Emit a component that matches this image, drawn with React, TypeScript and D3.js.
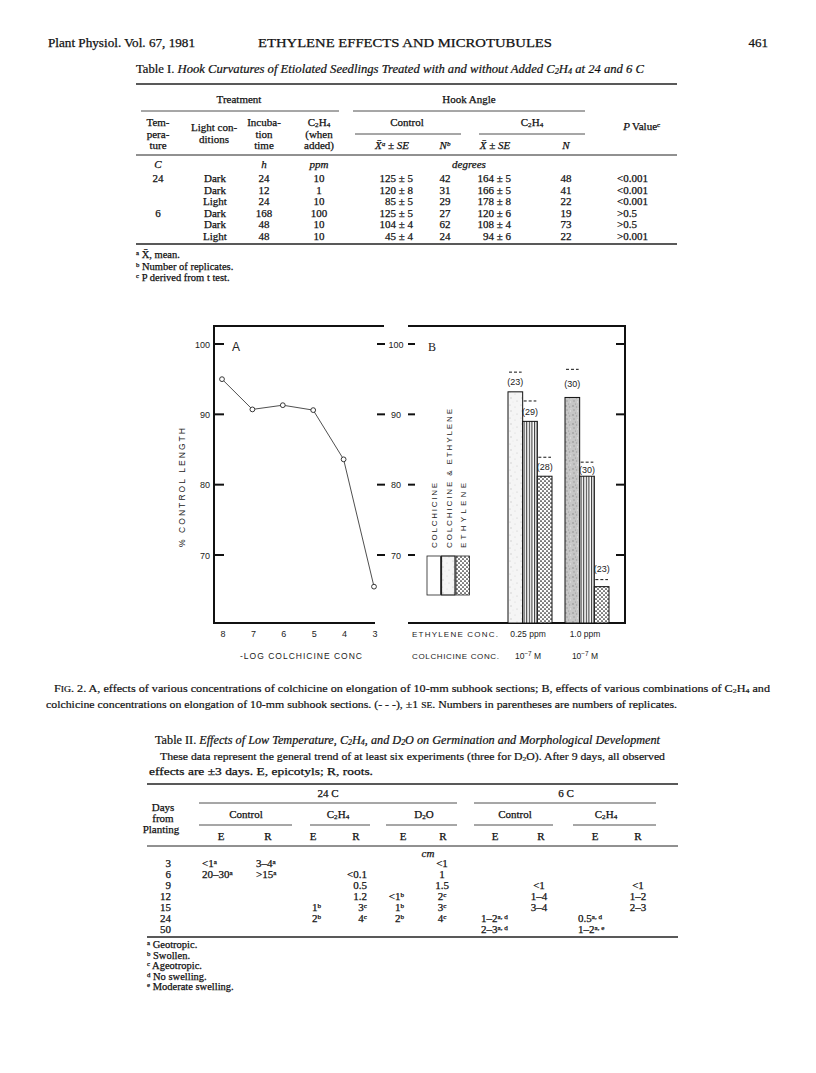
import React from 'react';
import * as d3 from 'd3';

const serif = '"Liberation Serif", "Times New Roman", serif';
const sans = '"Liberation Sans", Arial, sans-serif';

// ---- Fig. 2A : % control length vs -log colchicine conc
const logConc = [8, 7, 6, 5, 4, 3];
const pctLength = [95, 90.7, 91.3, 90.6, 83.6, 65.5];
const yTicks = [70, 80, 90, 100];

// ---- Fig. 2B : bars per ethylene conc (colchicine 10^-7 M)
const ethyleneConc = ['0.25 ppm', '1.0 ppm'];
const treatments = ['COLCHICINE', 'COLCHICINE & ETHYLENE', 'ETHYLENE'];
const barMeans = [[93.2, 89.0, 81.2], [92.4, 81.2, 65.5]];
const barSE = [[2.8, 2.9, 2.7], [4.0, 2.0, 1.0]];
const replicates = [[23, 29, 28], [30, 30, 23]];

// ---- Table I
const t1Temp = ['24', '', '', '6', '', ''];
const t1Light = ['Dark', 'Dark', 'Light', 'Dark', 'Dark', 'Light'];
const t1Time = ['24', '12', '24', '168', '48', '48'];
const t1Ppm = ['10', '1', '10', '100', '10', '10'];
const t1CtrlMean = ['125 ± 5', '120 ± 8', '85 ± 5', '125 ± 5', '104 ± 4', '45 ± 4'];
const t1CtrlN = ['42', '31', '29', '27', '62', '24'];
const t1EthMean = ['164 ± 5', '166 ± 5', '178 ± 8', '120 ± 6', '108 ± 4', '94 ± 6'];
const t1EthN = ['48', '41', '22', '19', '73', '22'];
const t1P = ['<0.001', '<0.001', '<0.001', '>0.5', '>0.5', '>0.001'];

// ---- Table II
const t2Days = ['3', '6', '9', '12', '15', '24', '50'];
const t2CtrlE = ['<1{^a}', '20–30{^a}', '', '', '', '', ''];
const t2CtrlR = ['3–4{^a}', '>15{^a}', '', '', '', '', ''];
const t2EthE = ['', '', '', '', '1{^b}', '2{^b}', ''];
const t2EthR = ['', '<0.1', '0.5', '1.2', '3{^c}', '4{^c}', ''];
const t2D2oE = ['', '', '', '<1{^b}', '1{^b}', '2{^b}', ''];
const t2D2oR = ['<1', '1', '1.5', '2{^c}', '3{^c}', '4{^c}', ''];
const t2ColdCtrlE = ['', '', '', '', '', '1–2{^a, d}', '2–3{^a, d}'];
const t2ColdCtrlR = ['', '', '<1', '1–4', '3–4', '', ''];
const t2ColdEthE = ['', '', '', '', '', '0.5{^a, d}', '1–2{^a, e}'];
const t2ColdEthR = ['', '', '<1', '1–2', '2–3', '', ''];
const t2Notes = ['{^a} Geotropic.', '{^b} Swollen.', '{^c} Ageotropic.', '{^d} No swelling.', '{^e} Moderate swelling.'];

function Rich({ s }: { s: string }) {
  const parts = s.split(/(\{[_^][^}]*\})/).filter(Boolean);
  return (
    <>
      {parts.map((p, i) => {
        const m = p.match(/^\{([_^])(.*)\}$/);
        if (!m) return <tspan key={i}>{p}</tspan>;
        return (
          <tspan key={i} fontSize="0.65em" baselineShift={m[1] === '^' ? '45%' : '-15%'}>
            {m[2]}
          </tspan>
        );
      })}
    </>
  );
}

const T = ({ x, y, s, anchor = 'middle', size = 11, italic = false, len }: any) => (
  <text x={x} y={y} textAnchor={anchor} fontSize={size} fontFamily={serif} stroke="#111" strokeWidth={0.25}
    fontStyle={italic ? 'italic' : 'normal'} textLength={len} lengthAdjust={len ? 'spacingAndGlyphs' : undefined}>
    <Rich s={s} />
  </text>
);

const Rule = ({ x1, x2, y, w = 0.8 }: any) => <line x1={x1} x2={x2} y1={y} y2={y} stroke="#222" strokeWidth={w} />;

function Header() {
  return (
    <g fill="#111">
      <T x={48} y={47} s="Plant Physiol. Vol. 67, 1981" anchor="start" size={12.5} len={147} />
      <T x={405} y={47} s="ETHYLENE EFFECTS AND MICROTUBULES" size={13} len={294} />
      <T x={768} y={47} s="461" anchor="end" size={13} />
    </g>
  );
}

function TableOne() {
  const row = d3.scaleLinear().domain([0, 5]).range([180, 237.5]);
  const cols: [string[], number, string][] = [
    [t1Temp, 158, 'middle'], [t1Light, 215, 'middle'], [t1Time, 264, 'middle'], [t1Ppm, 319, 'middle'],
    [t1CtrlMean, 413, 'end'], [t1CtrlN, 445, 'middle'], [t1EthMean, 511, 'end'], [t1EthN, 566, 'middle'],
    [t1P, 617, 'start'],
  ];
  return (
    <g fill="#111">
      <text x={136} y={73} fontSize={11.5} fontFamily={serif} stroke="#111" strokeWidth={0.2} textLength={508} lengthAdjust="spacingAndGlyphs">
        <tspan>Table I. </tspan>
        <tspan fontStyle="italic">Hook Curvatures of Etiolated Seedlings Treated with and without Added C</tspan>
        <tspan fontStyle="italic" fontSize="0.65em" baselineShift="-15%">2</tspan>
        <tspan fontStyle="italic">H</tspan>
        <tspan fontStyle="italic" fontSize="0.65em" baselineShift="-15%">4</tspan>
        <tspan fontStyle="italic"> at 24 and 6 C</tspan>
      </text>
      <Rule x1={136} x2={677} y={84} w={1.6} />
      <T x={239} y={103} s="Treatment" />
      <T x={469} y={103} s="Hook Angle" />
      <Rule x1={141} x2={339} y={111} />
      <Rule x1={353} x2={585} y={111} />
      <T x={158} y={126} s="Tem-" /><T x={158} y={137.5} s="pera-" /><T x={158} y={149} s="ture" />
      <T x={214} y={131} s="Light con-" /><T x={214} y={142.5} s="ditions" />
      <T x={264} y={126} s="Incuba-" /><T x={264} y={137.5} s="tion" /><T x={264} y={149} s="time" />
      <T x={319} y={126} s="C{_2}H{_4}" /><T x={319} y={138} s="(when" /><T x={319} y={149} s="added)" />
      <T x={407} y={126} s="Control" />
      <T x={532} y={126} s="C{_2}H{_4}" />
      <T x={630} y={130} s="P" italic anchor="end" />
      <T x={632} y={130} s="Value{^c}" anchor="start" />
      <Rule x1={355} x2={461} y={134} />
      <Rule x1={479} x2={585} y={134} />
      <T x={392} y={149} s="X̄{^a} ± SE" italic />
      <T x={445} y={149} s="N{^b}" italic />
      <T x={495} y={149} s="X̄ ± SE" italic />
      <T x={566} y={149} s="N" italic />
      <Rule x1={136} x2={677} y={155} w={1} />
      <T x={158} y={168} s="C" italic />
      <T x={264} y={168} s="h" italic />
      <T x={319} y={168} s="ppm" italic />
      <T x={469} y={168} s="degrees" italic />
      {cols.map(([vals, x, a], ci) =>
        vals.map((v, i) => <T key={ci + '-' + i} x={x} y={row(i) + 2} s={v} anchor={a} />)
      )}
      <Rule x1={136} x2={677} y={244} w={1.4} />
      <T x={136} y={258} s="{^a} X̄, mean." anchor="start" size={10.5} />
      <T x={136} y={269.5} s="{^b} Number of replicates." anchor="start" size={10.5} />
      <T x={136} y={281} s="{^c} P derived from t test." anchor="start" size={10.5} />
    </g>
  );
}

function Figure() {
  const y = d3.scaleLinear().domain([70, 100]).range([555, 344]);
  const xA = d3.scaleLinear().domain([8, 3]).range([222, 374]);
  const line = d3.line<number>().x((_, i) => xA(logConc[i])).y(d => y(d));
  const group = d3.scaleBand<string>().domain(ethyleneConc).range([508, 609]).paddingInner(0.228);
  const sub = d3.scaleBand<number>().domain([0, 1, 2]).range([0, group.bandwidth()]);
  const fills = [['url(#stipL)', 'url(#vl)', 'url(#dots)'], ['url(#stipD)', 'url(#vl)', 'url(#dots)']];
  const base = 623;
  const lab = { fontFamily: sans, fill: '#222' };
  return (
    <g>
      <defs>
        <pattern id="stipL" width="11" height="13" patternUnits="userSpaceOnUse">
          <rect width="11" height="13" fill="#f5f5f5" />
          <circle cx="2" cy="2" r="0.6" fill="#c2c2c2" /><circle cx="7" cy="4" r="0.5" fill="#d0d0d0" />
          <circle cx="3" cy="8" r="0.7" fill="#c8c8c8" /><circle cx="9" cy="11" r="0.5" fill="#bdbdbd" />
          <circle cx="5" cy="12" r="0.4" fill="#d6d6d6" />
        </pattern>
        <pattern id="stipD" width="7" height="9" patternUnits="userSpaceOnUse">
          <rect width="7" height="9" fill="#c6c6c6" />
          <circle cx="1" cy="1" r="0.8" fill="#8c8c8c" /><circle cx="4.5" cy="2" r="0.7" fill="#a2a2a2" />
          <circle cx="2" cy="5" r="0.7" fill="#969696" /><circle cx="5.5" cy="6" r="0.7" fill="#e4e4e4" />
          <circle cx="3.5" cy="8" r="0.6" fill="#9a9a9a" /><circle cx="6" cy="3.8" r="0.5" fill="#e0e0e0" />
        </pattern>
        <pattern id="vl" width="2.6" height="4" patternUnits="userSpaceOnUse">
          <rect width="2.6" height="4" fill="#fff" />
          <line x1="0.6" x2="0.6" y1="0" y2="4" stroke="#111" strokeWidth="0.9" />
        </pattern>
        <pattern id="dots" width="4" height="4" patternUnits="userSpaceOnUse">
          <rect width="4" height="4" fill="#fff" />
          <circle cx="1" cy="1" r="0.85" fill="#111" /><circle cx="3" cy="3" r="0.85" fill="#111" />
        </pattern>
      </defs>

      {/* frame */}
      <g stroke="#111" strokeWidth={2} fill="none">
        <path d={`M213,326 H384`} />
        <path d={`M214,325 V${base} H375`} />
        <path d={`M408,326 H625 V${base} H408`} />
      </g>

      {/* panel A axes */}
      {yTicks.map(t => (
        <g key={'a' + t}>
          <line x1={214} x2={224} y1={y(t)} y2={y(t)} stroke="#111" strokeWidth={2} />
          <text x={210} y={y(t) + 3.5} textAnchor="end" fontSize={9} {...lab}>{t}</text>
        </g>
      ))}
      {logConc.map(v => (
        <text key={'x' + v} x={xA(v) + 1} y={637} textAnchor="middle" fontSize={9} {...lab}>{v}</text>
      ))}
      <text x={240} y={659} fontSize={8.5} textLength={122} lengthAdjust="spacing" {...lab}>-LOG COLCHICINE CONC</text>
      <text transform="translate(185,547) rotate(-90)" fontSize={8.5} textLength={119} lengthAdjust="spacing" {...lab}>% CONTROL LENGTH</text>
      <text x={232} y={351} fontSize={12} fontFamily={sans} fill="#222">A</text>
      <path d={line(pctLength) || ''} fill="none" stroke="#222" strokeWidth={0.8} />
      {pctLength.map((v, i) => (
        <circle key={'p' + i} cx={xA(logConc[i])} cy={y(v)} r={2.4} fill="#fff" stroke="#222" strokeWidth={0.9} />
      ))}

      {/* panel B scale */}
      {yTicks.map(t => (
        <g key={'b' + t} stroke="#111" strokeWidth={2}>
          <line x1={377} x2={385} y1={y(t)} y2={y(t)} />
          <line x1={408} x2={415} y1={y(t)} y2={y(t)} />
          <line x1={616} x2={625} y1={y(t)} y2={y(t)} />
          <text x={396} y={y(t) + 3.5} textAnchor="middle" fontSize={9} stroke="none" {...lab}>{t}</text>
        </g>
      ))}
      <text x={428} y={351} fontSize={12} fontFamily={serif} fill="#222">B</text>

      {/* legend */}
      {treatments.map((t, i) => {
        const x0 = 427 + i * 14.5;
        const len = [65, 139, 65][i];
        return (
          <g key={'l' + i}>
            <text transform={`translate(${x0 + 10},548) rotate(-90)`} fontSize={8} textLength={len}
              lengthAdjust="spacing" {...lab}>{t}</text>
            <rect x={x0} y={556} width={13.5} height={39} fill={['#fff', 'url(#stipL)', 'url(#dots)'][i]}
              stroke="#222" strokeWidth={i === 1 ? 1.2 : 0.8} />
          </g>
        );
      })}

      {/* bars */}
      {ethyleneConc.map((g, gi) => (
        <g key={g} transform={`translate(${group(g)},0)`}>
          {barMeans[gi].map((v, i) => {
            const x0 = sub(i)!;
            const w = sub.bandwidth();
            const top = y(v);
            const err = y(v + barSE[gi][i]);
            const ly = top - err < 10 ? err - 8 : (top + err) / 2 + 3.5;
            return (
              <g key={i}>
                <rect x={x0} y={top} width={w} height={base - top} fill={fills[gi][i]} stroke="#111" strokeWidth={1} />
                <line x1={x0 + 1} x2={x0 + w - 1} y1={err} y2={err} stroke="#111" strokeWidth={1} strokeDasharray="3,2" />
                <text x={x0 + w / 2} y={ly} textAnchor="middle" fontSize={9} {...lab}>({replicates[gi][i]})</text>
              </g>
            );
          })}
        </g>
      ))}
      <text x={412} y={637} fontSize={8} textLength={86} lengthAdjust="spacing" {...lab}>ETHYLENE CONC.</text>
      <text x={412} y={659} fontSize={8} textLength={87} lengthAdjust="spacing" {...lab}>COLCHICINE CONC.</text>
      {ethyleneConc.map(g => (
        <g key={'c' + g}>
          <text x={group(g)! + group.bandwidth() / 2 - 2} y={637} textAnchor="middle" fontSize={8.5} {...lab}>{g}</text>
          <text x={group(g)! + group.bandwidth() / 2 - 2} y={659} textAnchor="middle" fontSize={8.5} {...lab}>
            10<tspan fontSize="0.75em" baselineShift="45%">−7</tspan> M
          </text>
        </g>
      ))}
    </g>
  );
}

function Caption() {
  return (
    <g fill="#111" stroke="#111" strokeWidth={0.2}>
      <text x={54} y={692} fontSize={11} fontFamily={serif} textLength={716} lengthAdjust="spacingAndGlyphs">
        F<tspan fontSize="0.8em">IG</tspan>. 2. A, effects of various concentrations of colchicine on elongation of 10-mm subhook sections; B, effects of various combinations of C<tspan fontSize="0.65em" baselineShift="-15%">2</tspan>H<tspan fontSize="0.65em" baselineShift="-15%">4</tspan> and
      </text>
      <text x={46} y={708} fontSize={11} fontFamily={serif} textLength={631} lengthAdjust="spacingAndGlyphs">
        colchicine concentrations on elongation of 10-mm subhook sections. (- - -), ±1 <tspan fontSize="0.8em">SE</tspan>. Numbers in parentheses are numbers of replicates.
      </text>
    </g>
  );
}

function TableTwo() {
  const dy = -16;
  const row = d3.scaleLinear().domain([0, 6]).range([883 + dy, 949 + dy]);
  const cols: [string[], number, string][] = [
    [t2Days, 171, 'end'], [t2CtrlE, 202, 'start'], [t2CtrlR, 256, 'start'],
    [t2EthE, 312, 'start'], [t2EthR, 367, 'end'], [t2D2oE, 404, 'end'], [t2D2oR, 442, 'middle'],
    [t2ColdCtrlE, 481, 'start'], [t2ColdCtrlR, 539, 'middle'], [t2ColdEthE, 578, 'start'], [t2ColdEthR, 638, 'middle'],
  ];
  const heads: [string, number, number, number][] = [
    ['Control', 246, 199, 292], ['C{_2}H{_4}', 338, 310, 370], ['D{_2}O', 424, 386, 457],
    ['Control', 515, 474, 553], ['C{_2}H{_4}', 606, 573, 656],
  ];
  const er = [221, 268, 313, 356, 403, 443, 495, 541, 595, 638];
  return (
    <g fill="#111">
      <text x={155} y={760 + dy} fontSize={11.5} fontFamily={serif} stroke="#111" strokeWidth={0.2} textLength={505} lengthAdjust="spacingAndGlyphs">
        <tspan>Table II. </tspan>
        <tspan fontStyle="italic">Effects of Low Temperature, C</tspan>
        <tspan fontStyle="italic" fontSize="0.65em" baselineShift="-15%">2</tspan>
        <tspan fontStyle="italic">H</tspan>
        <tspan fontStyle="italic" fontSize="0.65em" baselineShift="-15%">4</tspan>
        <tspan fontStyle="italic">, and D</tspan>
        <tspan fontStyle="italic" fontSize="0.65em" baselineShift="-15%">2</tspan>
        <tspan fontStyle="italic">O on Germination and Morphological Development</tspan>
      </text>
      <text x={160} y={776 + dy} fontSize={11} fontFamily={serif} stroke="#111" strokeWidth={0.2} textLength={505} lengthAdjust="spacingAndGlyphs">
        These data represent the general trend of at least six experiments (three for D<tspan fontSize="0.65em" baselineShift="-15%">2</tspan>O). After 9 days, all observed
      </text>
      <T x={149} y={791 + dy} s="effects are ±3 days. E, epicotyls; R, roots." anchor="start" size={11} len={224} />
      <Rule x1={147} x2={678} y={800 + dy} w={1.6} />
      <T x={328} y={813 + dy} s="24 C" />
      <T x={566} y={813 + dy} s="6 C" />
      <Rule x1={199} x2={457} y={819 + dy} />
      <Rule x1={474} x2={656} y={819 + dy} />
      <T x={163} y={827 + dy} s="Days" /><T x={163} y={838 + dy} s="from" /><T x={161} y={849 + dy} s="Planting" />
      {heads.map(([s, x, a, b], i) => (
        <g key={'h' + i}>
          <T x={x} y={834 + dy} s={s} />
          <Rule x1={a} x2={b} y={841 + dy} />
        </g>
      ))}
      {er.map((x, i) => <T key={'er' + i} x={x} y={856 + dy} s={i % 2 ? 'R' : 'E'} />)}
      <Rule x1={147} x2={678} y={862 + dy} w={1} />
      <T x={428} y={873 + dy} s="cm" italic />
      {cols.map(([vals, x, a], ci) =>
        vals.map((v, i) => v ? <T key={ci + '-' + i} x={x} y={row(i)} s={v} anchor={a} /> : null)
      )}
      <Rule x1={147} x2={678} y={953 + dy} w={1.4} />
      {t2Notes.map((s, i) => (
        <T key={'f' + i} x={147} y={964 + dy + i * 10.5} s={s} anchor="start" size={10.5} />
      ))}
    </g>
  );
}

export default function App() {
  return (
    <svg width={816} height={1073} style={{ position: 'absolute', left: 0, top: 0, background: '#fff' }}>
      <rect width={816} height={1073} fill="#fff" />
      <Header />
      <TableOne />
      <Figure />
      <Caption />
      <TableTwo />
    </svg>
  );
}
